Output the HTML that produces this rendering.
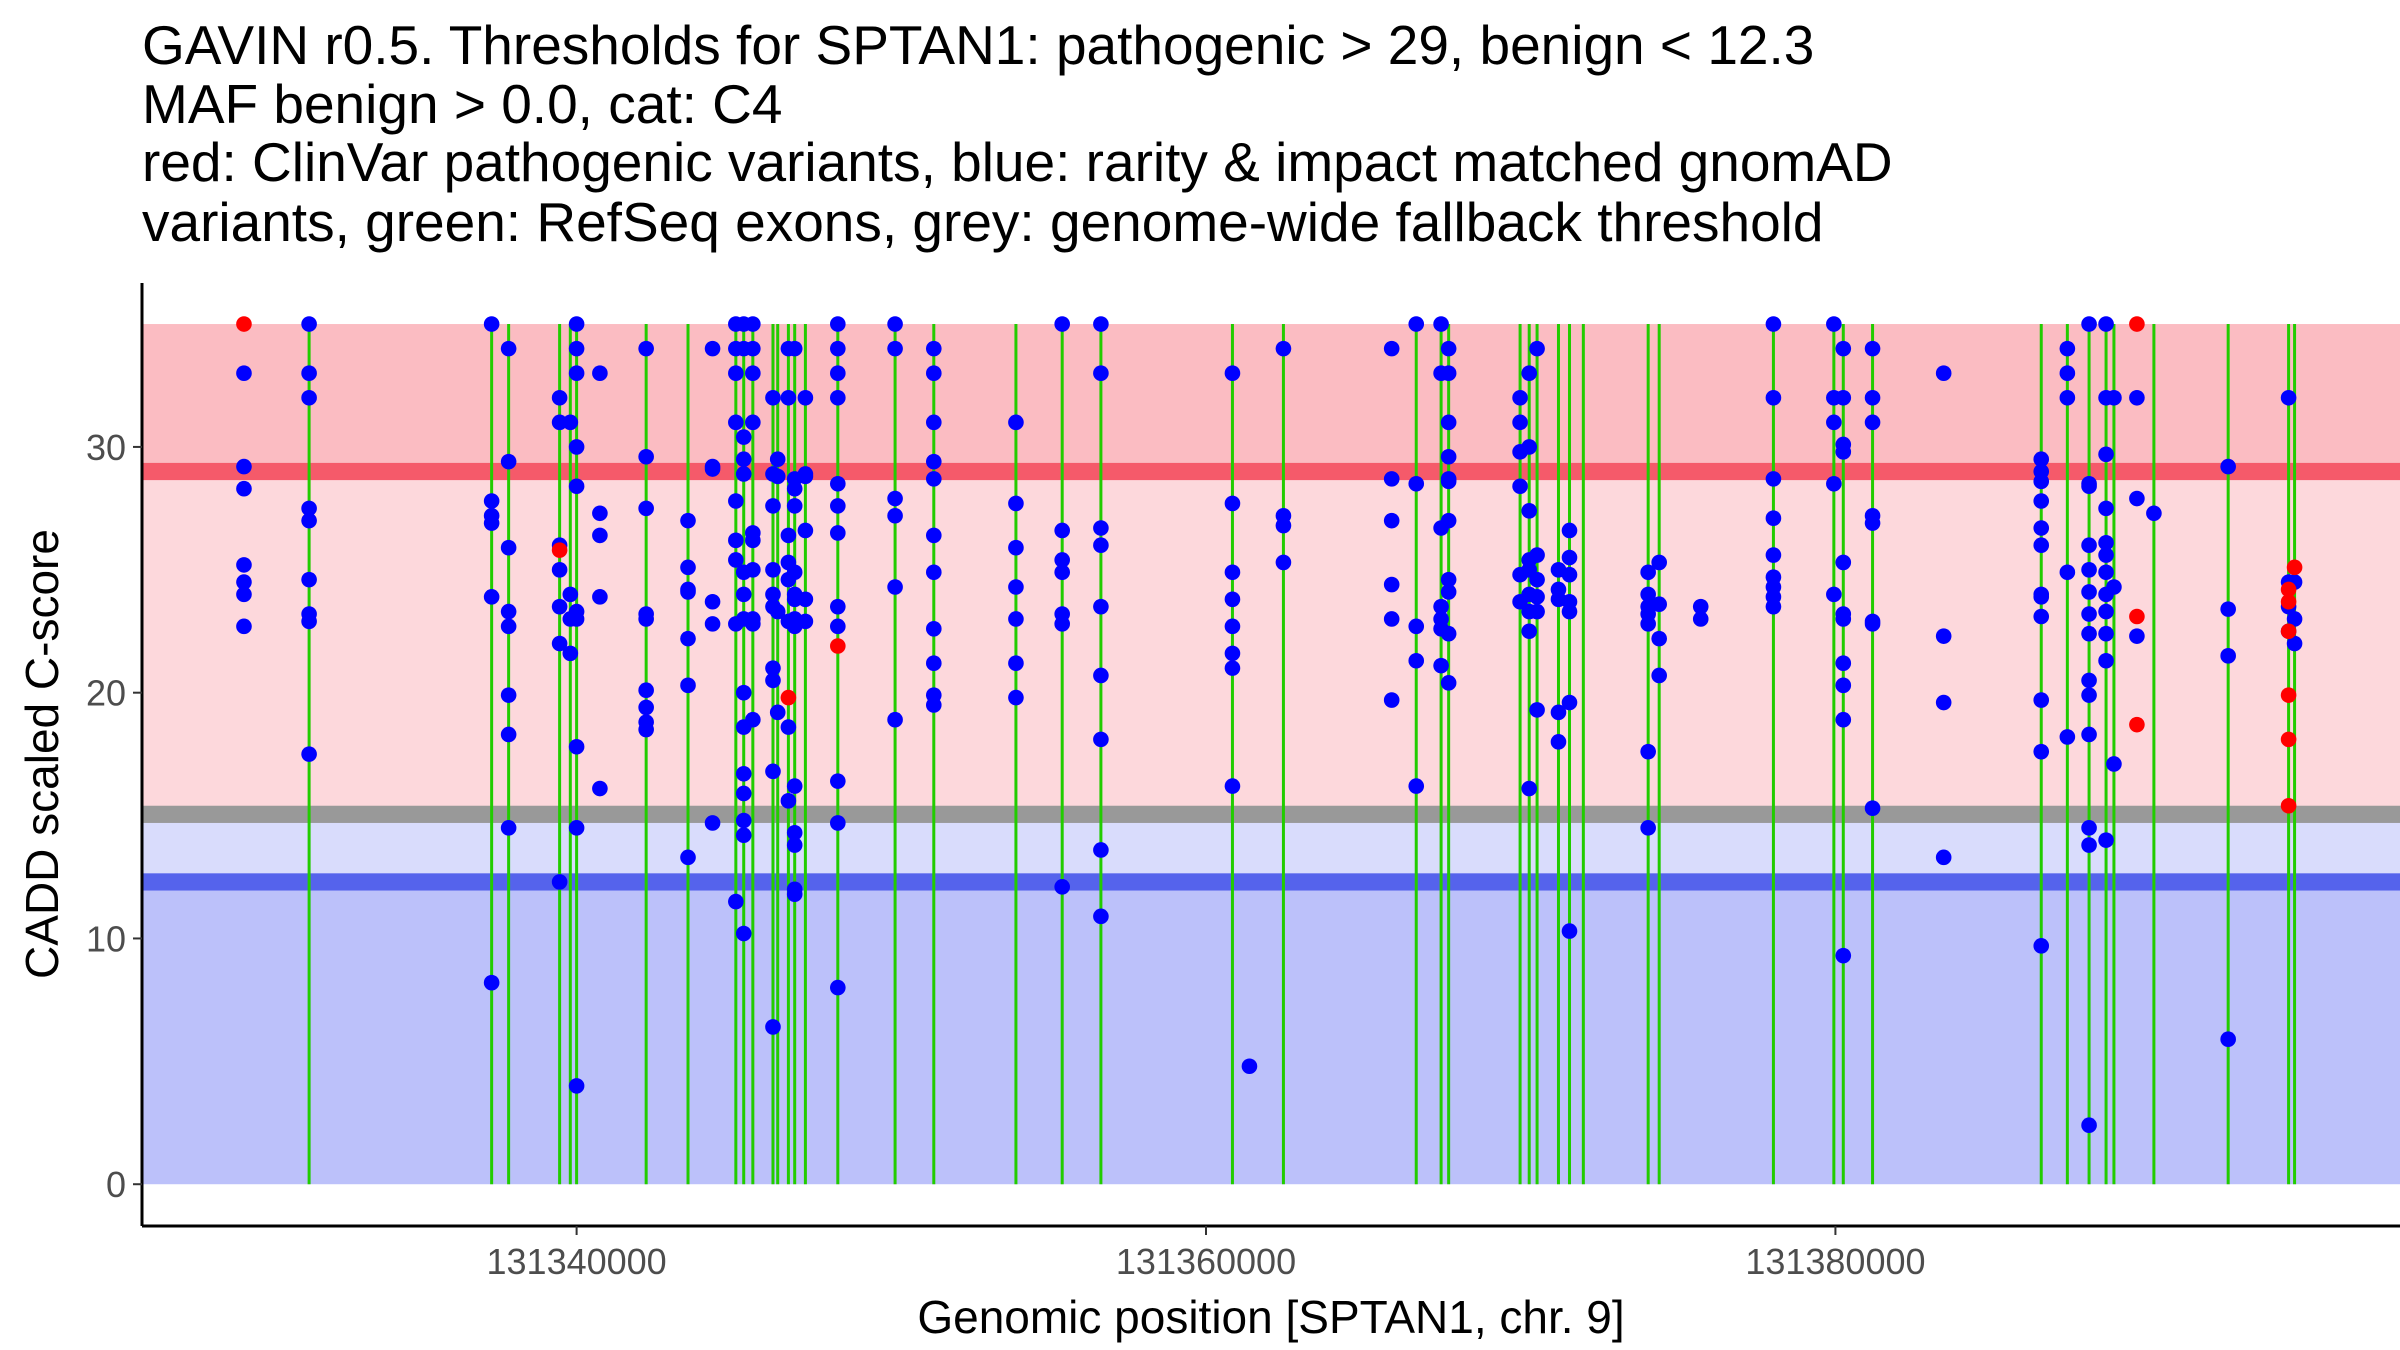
<!DOCTYPE html>
<html><head><meta charset="utf-8">
<style>
html,body{margin:0;padding:0;background:#fff;}
svg{display:block;font-family:"Liberation Sans",Arial,sans-serif;}
</style></head>
<body>
<svg id="chart" width="2400" height="1350" viewBox="0 0 2400 1350" xmlns="http://www.w3.org/2000/svg">
<g font-size="55" fill="#000">
<text x="142" y="64">GAVIN r0.5. Thresholds for SPTAN1: pathogenic &gt; 29, benign &lt; 12.3</text>
<text x="142" y="123">MAF benign &gt; 0.0, cat: C4</text>
<text x="142" y="181">red: ClinVar pathogenic variants, blue: rarity &amp; impact matched gnomAD</text>
<text x="142" y="241">variants, green: RefSeq exons, grey: genome-wide fallback threshold</text>
</g>
<g id="bands"></g>
<g id="exons"></g>
<g id="points"></g>
<g id="axes"></g>
<text x="1271" y="1333" font-size="46" text-anchor="middle">Genomic position [SPTAN1, chr. 9]</text>
<text transform="translate(58,754) rotate(-90)" font-size="46" text-anchor="middle">CADD scaled C-score</text>
</svg>
<script>
// positions in kb
const exonKb = [131331.50,131337.30,131337.84,131339.46,131339.80,131340.00,131342.21,131343.54,131345.06,131345.31,131345.60,131346.24,131346.39,131346.73,131346.93,131347.27,131348.30,131350.12,131351.35,131353.96,131355.43,131356.66,131360.84,131362.46,131366.68,131367.47,131367.71,131369.98,131370.27,131370.52,131371.20,131371.55,131371.99,131374.05,131374.40,131378.03,131379.95,131380.25,131381.18,131386.54,131387.37,131388.06,131388.60,131388.85,131390.12,131392.48,131394.40,131394.59];
const benignPosKb = [131329.43,131331.50,131337.30,131337.84,131339.46,131339.80,131340.00,131340.74,131342.21,131343.54,131344.32,131345.06,131345.31,131345.60,131346.24,131346.39,131346.73,131346.93,131347.27,131348.30,131350.12,131351.35,131353.96,131355.43,131356.66,131360.84,131361.38,131362.46,131365.90,131366.68,131367.47,131367.71,131369.98,131370.27,131370.52,131371.20,131371.55,131374.05,131374.40,131375.72,131378.03,131379.95,131380.25,131381.18,131383.44,131386.54,131387.37,131388.06,131388.60,131388.85,131389.58,131390.12,131392.48,131394.40,131394.59];
const benignScores = [
[33,29.2,28.3,25.2,24.5,24,22.7],
[35,33,32,27.5,27,24.6,23.2,22.9,17.5],
[35,27.8,27.2,26.9,23.9,8.2],
[34,29.4,25.9,23.3,22.7,19.9,18.3,14.5],
[32,31,26,25,23.5,22,12.3],
[31,24,23,21.6],
[35,34,33,30,28.4,23.3,23,17.8,14.5,4],
[33,27.3,26.4,23.9,16.1],
[34,29.6,27.5,23.2,23,20.1,19.4,18.8,18.5],
[27,25.1,24.1,24.2,22.2,20.3,13.3],
[34,29.2,29.1,23.7,22.8,14.7],
[35,34,33,31,27.8,26.2,25.4,22.8,11.5],
[35,34,30.4,29.5,28.9,24.9,24,23,20,18.6,16.7,15.9,14.8,14.2,10.2],
[35,34,33,31,26.5,26.2,25,23,22.8,18.9],
[32,28.9,27.6,25,24,23.5,21,20.5,16.8,6.4],
[29.5,28.8,23.3,19.2],
[34,32,26.4,25.3,24.6,22.9,18.6,15.6],
[34,28.7,28.3,27.6,24.9,24,23.8,23,22.7,16.2,14.3,13.8,12,11.8],
[32,28.9,28.8,26.6,23.8,22.9],
[35,34,33,32,28.5,27.6,26.5,23.5,22.7,16.4,14.7,8],
[35,34,27.9,27.2,24.3,18.9],
[34,33,31,29.4,28.7,26.4,24.9,22.6,21.2,19.9,19.5],
[31,27.7,25.9,24.3,23,21.2,19.8],
[35,26.6,25.4,24.9,23.2,22.8,12.1],
[35,33,26.7,26,23.5,20.7,18.1,13.6,10.9],
[33,27.7,24.9,23.8,22.7,21.6,21,16.2],
[4.8],
[34,27.2,26.8,25.3],
[34,28.7,27,24.4,23,19.7],
[35,28.5,22.7,21.3,16.2],
[35,33,26.7,23.5,23,22.6,21.1],
[34,33,31,29.6,28.7,28.6,27,24.6,24.1,22.4,20.4],
[32,31,29.8,28.4,24.8,23.7],
[33,30,27.4,25.4,25,24,23.3,22.5,16.1],
[34,25.6,24.6,23.9,23.3,19.3],
[25,24.2,23.8,19.2,18],
[26.6,25.5,24.8,23.7,23.3,19.6,10.3],
[24.9,24,23.5,23.2,22.8,17.6,14.5],
[25.3,23.6,22.2,20.7],
[23.5,23],
[35,32,28.7,27.1,25.6,24.7,24.3,23.9,23.5],
[35,32,31,28.5,24],
[34,32,30.1,29.8,25.3,23.2,23,21.2,20.3,18.9,9.3],
[34,32,31,27.2,26.9,22.9,22.8,15.3],
[33,22.3,19.6,13.3],
[29.5,29,28.6,27.8,26.7,26,24,23.9,23.1,19.7,17.6,9.7],
[34,33,32,24.9,18.2],
[35,28.5,28.4,26,25,24.1,23.2,22.4,20.5,19.9,18.3,14.5,13.8,2.4],
[35,32,29.7,27.5,26.1,25.6,24.9,24,23.3,22.4,21.3,14],
[32,24.3,17.1],
[32,27.9,22.3],
[27.3],
[29.2,23.4,21.5,5.9],
[32,24.5,23.5,22.5],
[24.5,23,22]
];
const pathoPosKb = [131329.43,131339.46,131346.73,131348.30,131389.58,131389.58,131389.58,131394.40,131394.40,131394.40,131394.40,131394.40,131394.40,131394.59];
const pathoScores = [35,25.8,19.8,21.9,35,23.1,18.7,24.2,23.7,22.5,19.9,18.1,15.4,25.1];
const xTicks = [131340000,131360000,131380000];
const yTicks = [0,10,20,30];

const L=142,R=2400,T=283,B=1226;
const xMin=131326190,xMax=131397940,yMin=-1.7,yMax=36.67;
const sx=v=>L+(v-xMin)/(xMax-xMin)*(R-L);
const sy=v=>B-(v-yMin)/(yMax-yMin)*(B-T);
const NS="http://www.w3.org/2000/svg";
function mk(parent,tag,attrs){const e=document.createElementNS(NS,tag);for(const k in attrs)e.setAttribute(k,attrs[k]);parent.appendChild(e);return e;}

const bands=document.getElementById('bands');
const bandDefs=[
 ['band-pathogenic',35,29,'#fbbcc2'],
 ['band-uncertain-high',29,15,'#fdd8dc'],
 ['band-uncertain-low',15,12.3,'#d9dcfc'],
 ['band-benign',12.3,0,'#bcc1fa'],
 ['pathogenic-threshold-line',29.35,28.65,'#f55a6a'],
 ['fallback-threshold-line',15.4,14.7,'#999999'],
 ['benign-threshold-line',12.65,11.95,'#5563ec']
];
bandDefs.forEach(b=>{
 const r=mk(bands,'rect',{x:L,y:sy(b[1]),width:R-L,height:sy(b[2])-sy(b[1]),fill:b[3]});
 
 
});

const ex=document.getElementById('exons');
exonKb.forEach(k=>{
 const l=mk(ex,'line',{x1:sx(k*1000),x2:sx(k*1000),y1:sy(35),y2:sy(0),stroke:'#22cc00','stroke-width':3});
 
 
});

const pts=document.getElementById('points');
benignPosKb.forEach((k,i)=>{
 benignScores[i].forEach(s=>{
  const c=mk(pts,'circle',{cx:sx(k*1000),cy:sy(s),r:7.8,fill:'#0000ff'});
  
  
 });
});
pathoPosKb.forEach((k,i)=>{
 const c=mk(pts,'circle',{cx:sx(k*1000),cy:sy(pathoScores[i]),r:7.8,fill:'#ff0000'});
 
 
});

const ax=document.getElementById('axes');
const ya=mk(ax,'line',{x1:L,x2:L,y1:T,y2:B,stroke:'#000','stroke-width':3});


const xa=mk(ax,'line',{x1:L,x2:R,y1:B,y2:B,stroke:'#000','stroke-width':3});


yTicks.forEach(v=>{
 const t=mk(ax,'line',{x1:L-9,x2:L,y1:sy(v),y2:sy(v),stroke:'#333','stroke-width':2});
 
 
 const tx=mk(ax,'text',{x:L-16,y:sy(v)+13,'font-size':36,fill:'#4d4d4d','text-anchor':'end'});
 tx.textContent=v;
 
 
});
xTicks.forEach(v=>{
 const t=mk(ax,'line',{x1:sx(v),x2:sx(v),y1:B,y2:B+9,stroke:'#333','stroke-width':2});
 
 
 const tx=mk(ax,'text',{x:sx(v),y:B+48,'font-size':36,fill:'#4d4d4d','text-anchor':'middle'});
 tx.textContent=v;
 
 
});
</script>
</body></html>
